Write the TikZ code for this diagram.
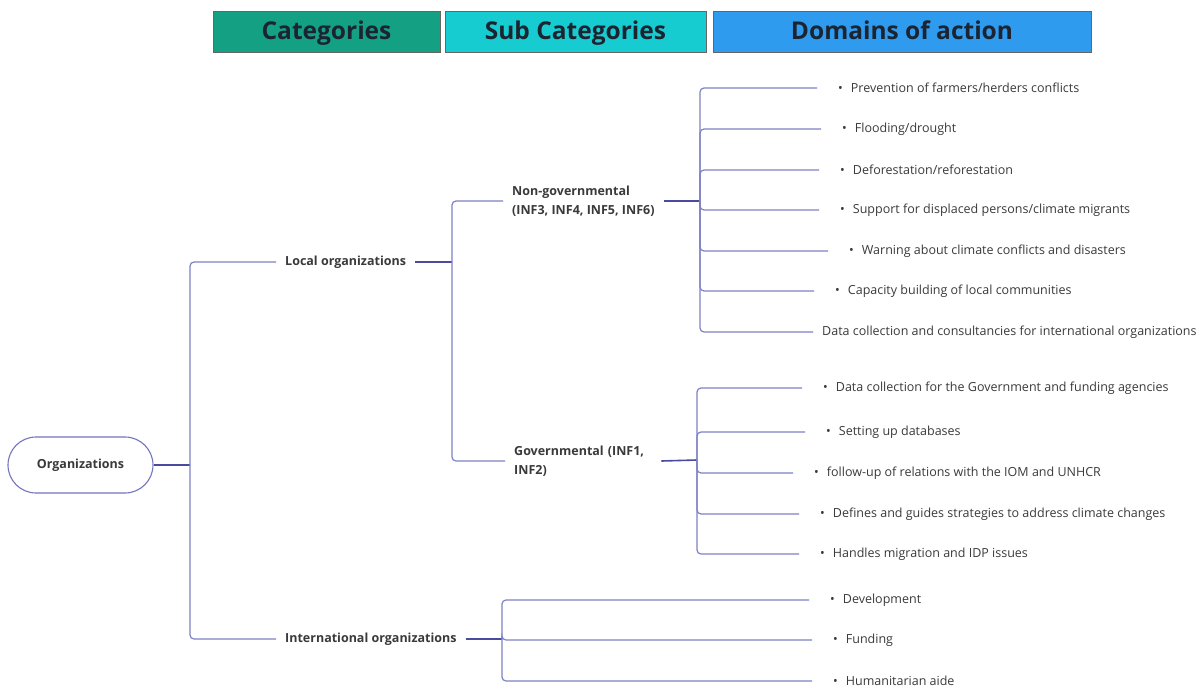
\documentclass[tikz,border=0pt]{standalone}
\usepackage{fontspec}
\setmainfont{Open Sans}
\definecolor{catgreen}{HTML}{13A083}
\definecolor{subcyan}{HTML}{17CCD1}
\definecolor{domblue}{HTML}{2E9BEE}
\definecolor{txtgray}{HTML}{3A3A3A}
\definecolor{headtxt}{HTML}{1B2430}
\definecolor{lineblue}{HTML}{7E82C6}
\definecolor{stubblue}{HTML}{4A4A9E}
\definecolor{pillblue}{HTML}{7474BC}
\newcommand{\itm}[1]{\textbullet\hspace{8pt}#1}
\tikzset{
  head/.style={draw=black!60, line width=.8pt, inner sep=0pt, minimum height=41pt,
    text height=19pt, text depth=3.5pt,
    font=\bfseries\fontsize{24.5}{28}\selectfont, text=headtxt},
  lbl/.style={font=\bfseries\fontsize{12.5}{19}\selectfont, text=txtgray, inner xsep=9pt, anchor=west},
  item/.style={font=\fontsize{12.5}{15}\selectfont, text=txtgray, anchor=west, inner xsep=21pt},
  branch/.style={draw=lineblue, line width=1.2pt, rounded corners=4pt},
  stub/.style={draw=stubblue, line width=1.6pt},
}
\begin{document}
\begin{tikzpicture}[x=1pt,y=-1pt]
\useasboundingbox[fill=white] (0,0) rectangle (1201,693);
% headers
\node[head, fill=catgreen, minimum width=227pt] (cat) at (326.5,31.5) {Categories};
\node[head, fill=subcyan, minimum width=261pt] (sub) at (575.5,31.5) {Sub Categories};
\node[head, fill=domblue, minimum width=378pt] (dom) at (902,31.5) {Domains of action};
% tree
\node[draw=pillblue, line width=1.1pt, rounded corners=28pt, minimum width=145pt, minimum height=56pt,
  font=\bfseries\fontsize{12.5}{15}\selectfont, text=txtgray] (org) at (80.5,465) {Organizations};
\coordinate (jroot) at (190,465);
\coordinate (jloc) at (452,262);
\coordinate (jngo) at (700,201);
\coordinate (jgov) at (697,460);
\coordinate (jint) at (502,639);
\node[lbl] (loc) at (276,262) {Local organizations};
\node[lbl] (int) at (276,639) {International organizations};
\node[lbl, align=left] (ngo) at (503,201) {Non-governmental\\(INF3, INF4, INF5, INF6)};
\node[lbl, align=left, text width=138pt] (gov) at (505,461) {Governmental (INF1,\\INF2)};
% domains, non-governmental
\node[item] (n1) at (817,88) {\itm{Prevention of farmers/herders conflicts}};
\node[item] (n2) at (821,129) {\itm{Flooding/drought}};
\node[item] (n3) at (819,170) {\itm{Deforestation/reforestation}};
\node[item] (n4) at (819,210) {\itm{Support for displaced persons/climate migrants}};
\node[item] (n5) at (828,251) {\itm{Warning about climate conflicts and disasters}};
\node[item] (n6) at (814,291) {\itm{Capacity building of local communities}};
\node[item, inner xsep=9pt] (n7) at (813,332) {Data collection and consultancies for international organizations};
% domains, governmental
\node[item] (g1) at (802,388) {\itm{Data collection for the Government and funding agencies}};
\node[item] (g2) at (805,432) {\itm{Setting up databases}};
\node[item] (g3) at (793,473) {\itm{follow-up of relations with the IOM and UNHCR}};
\node[item] (g4) at (799,514) {\itm{Defines and guides strategies to address climate changes}};
\node[item] (g5) at (799,554) {\itm{Handles migration and IDP issues}};
% domains, international
\node[item] (i1) at (809,600) {\itm{Development}};
\node[item] (i2) at (812,640) {\itm{Funding}};
\node[item] (i3) at (812,681) {\itm{Humanitarian aide}};
% connectors
\draw[stub] (org.east) -- (jroot);
\draw[branch] (loc.west) -| (jroot);
\draw[branch] (int.west) -| (jroot);
\draw[stub] (loc.east) -- (jloc);
\draw[branch] (ngo.west) -| (jloc);
\draw[branch] (gov.west) -| (jloc);
\draw[stub] (ngo.east) -- (jngo);
\draw[stub] (gov.east) -- (jgov);
\draw[stub] (int.east) -- (jint);
\foreach \n in {n1,n2,n3,n4,n5,n6,n7} \draw[branch] (\n.west) -| (jngo);
\foreach \n in {g1,g2,g3,g4,g5} \draw[branch] (\n.west) -| (jgov);
\foreach \n in {i1,i2,i3} \draw[branch] (\n.west) -| (jint);
\end{tikzpicture}
\end{document}
